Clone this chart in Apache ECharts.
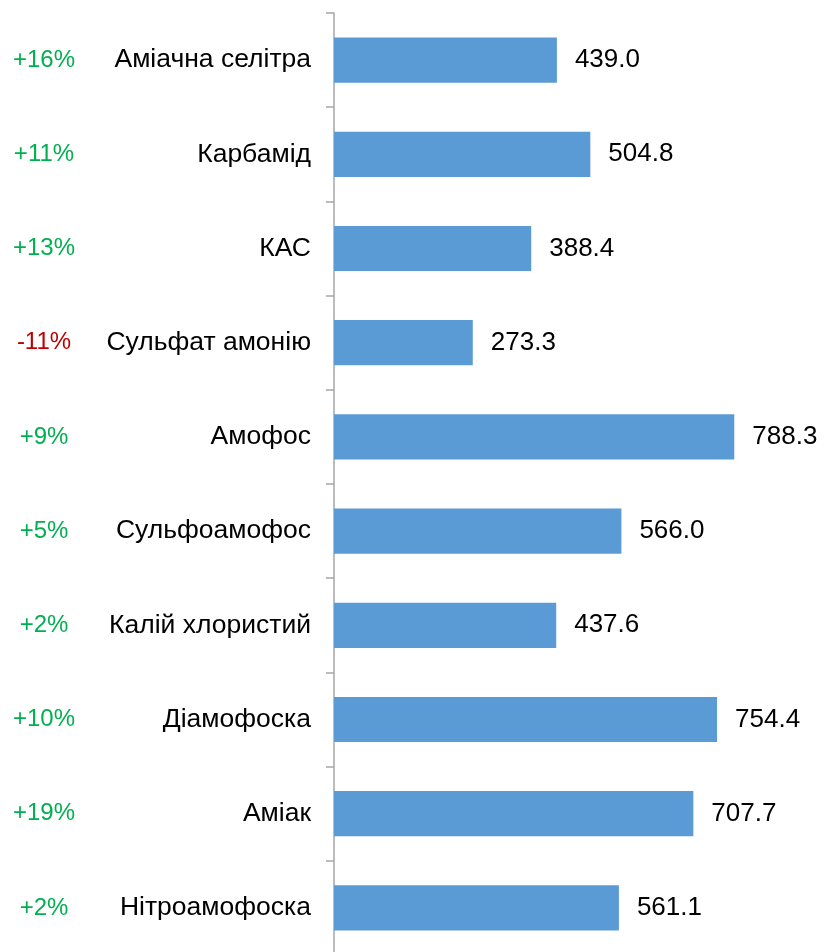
<!DOCTYPE html>
<html>
<head>
<meta charset="utf-8">
<script src="https://cdn.jsdelivr.net/npm/echarts@6/dist/echarts.min.js"></script>
<style>
html, body { margin: 0; padding: 0; background: #fff; }
#chart { width: 825px; height: 952px; }
</style>
</head>
<body>
<div id="chart"></div>
<script>
var products = ['Аміачна селітра', 'Карбамід', 'КАС', 'Сульфат амонію', 'Амофос',
    'Сульфоамофос', 'Калій хлористий', 'Діамофоска', 'Аміак', 'Нітроамофоска'];
var prices = [439.0, 504.8, 388.4, 273.3, 788.3, 566.0, 437.6, 754.4, 707.7, 561.1];
var changes = ['+16%', '+11%', '+13%', '-11%', '+9%', '+5%', '+2%', '+10%', '+19%', '+2%'];

var chart = echarts.init(document.getElementById('chart'));

var option = {
    animation: false,
    grid: { left: 334, width: 457, top: 13, height: 942, outerBoundsMode: 'none', containLabel: false },
    xAxis: {
        type: 'value',
        min: 0,
        max: 900,
        show: false
    },
    yAxis: [{
        type: 'category',
        data: products,
        inverse: true,
        axisLine: { lineStyle: { color: '#A6A6A6', width: 1.5 } },
        axisTick: { show: true, length: 8, lineStyle: { color: '#A6A6A6', width: 1.5 } },
        axisLabel: {
            margin: 23,
            color: '#000',
            fontFamily: 'Liberation Sans, Arial, sans-serif',
            fontSize: 26.5
        }
    }, {
        type: 'category',
        data: changes,
        inverse: true,
        position: 'left',
        offset: 290,
        axisLine: { show: false },
        axisTick: { show: false },
        axisLabel: {
            margin: 0,
            align: 'center',
            fontFamily: 'Liberation Sans, Arial, sans-serif',
            fontSize: 24,
            color: function (v) {
                return v.charAt(0) === '-' ? '#C00000' : '#00B050';
            }
        }
    }],
    series: [{
        type: 'bar',
        data: prices,
        barWidth: '48%',
        itemStyle: { color: '#5B9BD5' },
        label: {
            show: true,
            position: 'right',
            distance: 18,
            color: '#000',
            fontFamily: 'Liberation Sans, Arial, sans-serif',
            fontSize: 26,
            formatter: function (p) { return p.value.toFixed(1); }
        }
    }]
};

chart.setOption(option);
</script>
</body>
</html>
